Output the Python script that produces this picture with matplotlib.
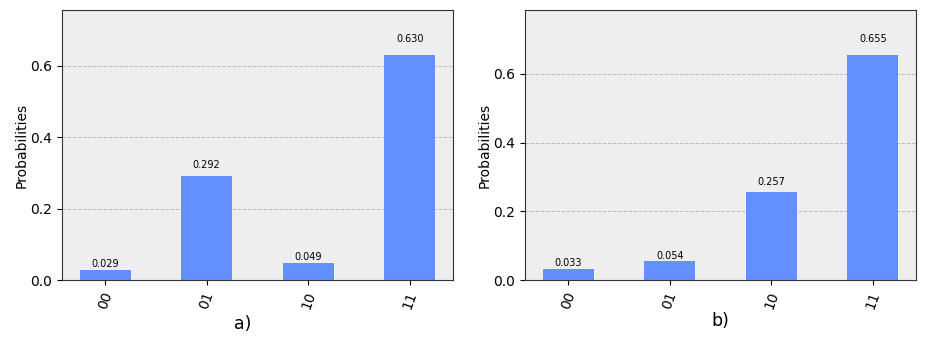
import matplotlib
matplotlib.use("Agg")
import matplotlib.pyplot as plt
import numpy as np

states = ["00", "01", "10", "11"]
probs_a = [0.029, 0.292, 0.049, 0.630]
probs_b = [0.033, 0.054, 0.257, 0.655]
panel_labels = ["a)", "b)"]

fig = plt.figure(figsize=(9.27, 3.45), dpi=100)
W, H = 927, 345
rects = [(62, 10, 453, 280), (525, 10, 916, 280)]
label_pos = [((243 - 62) / 391, -0.13), (0.5, -0.12)]

for (x0, y0, x1, y1), vals, lab, (lx, ly) in zip(rects, [probs_a, probs_b], panel_labels, label_pos):
    ax = fig.add_axes([x0 / W, 1 - y1 / H, (x1 - x0) / W, (y1 - y0) / H])
    ax.set_facecolor("#eeeeee")
    x = np.arange(len(states))
    bars = ax.bar(x, vals, width=0.5, color="#648fff", zorder=2)
    ax.set_ylim(0, max(vals) * 1.2)
    ax.set_yticks([0.0, 0.2, 0.4, 0.6])
    ax.set_xticks(x)
    ax.set_xticklabels(states, rotation=70)
    ax.tick_params(axis="both", labelsize=10)
    ax.yaxis.grid(True, linestyle="--", color="#bbbbbb", linewidth=0.7, zorder=0)
    ax.set_axisbelow(True)
    for b, v in zip(bars, vals):
        ax.text(b.get_x() + b.get_width() / 2, 1.05 * v, f"{v:.3f}",
                ha="center", va="bottom", fontsize=7, zorder=3)
    ax.set_ylabel("Probabilities", fontsize=10, labelpad=1.5)
    ax.set_xlabel(lab, fontsize=12.5)
    ax.xaxis.set_label_coords(lx, ly)
    for s in ax.spines.values():
        s.set_color("#333333")

fig.savefig("out.png", dpi=100)
